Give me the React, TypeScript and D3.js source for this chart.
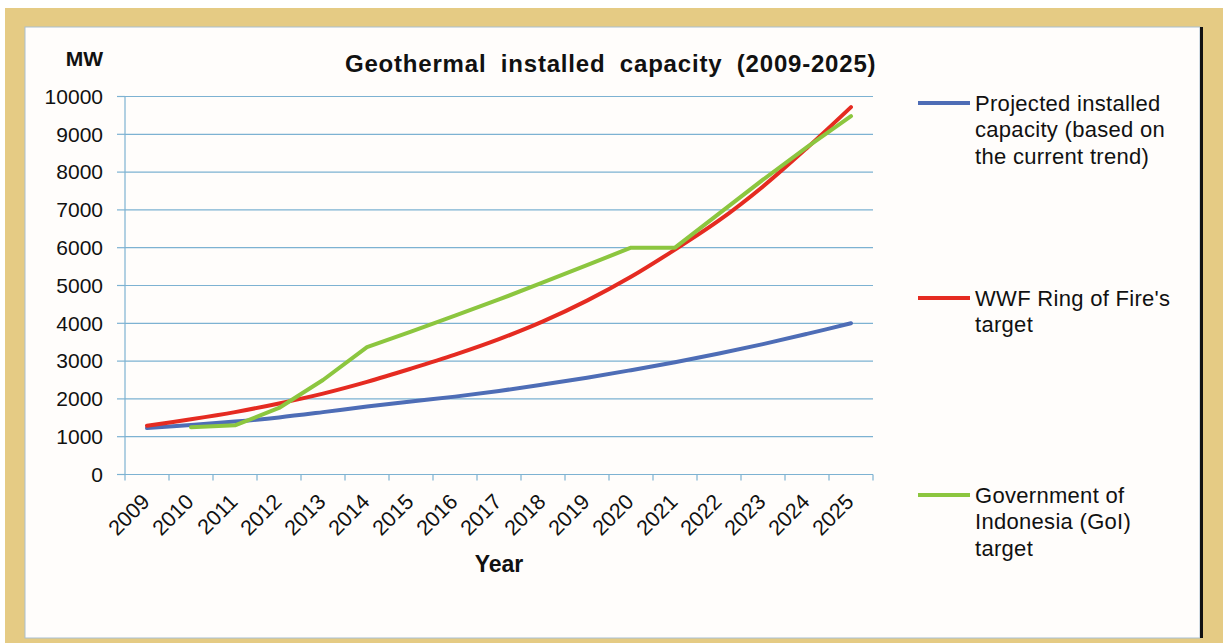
import React from "react";
import * as d3 from "d3";

const years = ["2009","2010","2011","2012","2013","2014","2015","2016","2017","2018","2019","2020","2021","2022","2023","2024","2025"];
const projected = [1230, 1310, 1400, 1510, 1650, 1800, 1930, 2060, 2210, 2380, 2560, 2760, 2970, 3200, 3450, 3720, 4000];
const wwf = [1290, 1460, 1650, 1880, 2140, 2450, 2800, 3170, 3580, 4050, 4600, 5230, 5950, 6720, 7620, 8640, 9720];
const goi: (number | null)[] = [null, 1250, 1300, 1760, 2500, 3370, 3780, 4200, 4630, 5080, 5540, 6000, 6000, 6900, 7800, 8660, 9480];
const yTicks = [0, 1000, 2000, 3000, 4000, 5000, 6000, 7000, 8000, 9000, 10000];
const legendItems = [
  { lines: ["Projected installed", "capacity (based on", "the current trend)"], color: "#4e6db6" },
  { lines: ["WWF Ring of Fire's", "target"], color: "#e52b21" },
  { lines: ["Government of", "Indonesia (GoI)", "target"], color: "#8cc63f" },
];

const W = 1223, H = 643;
const FONT = "'Liberation Sans', Arial, sans-serif";

export default function App() {
  const x = d3.scaleBand<string>().domain(years).range([125, 873]).paddingInner(0).paddingOuter(0);
  const y = d3.scaleLinear().domain([0, 10000]).range([474.5, 96.5]);
  const cx = (yr: string) => (x(yr) as number) + x.bandwidth() / 2;

  const smooth = d3.line<number>().x((_, i) => cx(years[i])).y((d) => y(d)).curve(d3.curveCatmullRom.alpha(0.5));
  const straight = d3
    .line<number | null>()
    .defined((d) => d !== null)
    .x((_, i) => cx(years[i]))
    .y((d) => y(d as number))
    .curve(d3.curveLinear);

  const gridColor = "#7db2d2";
  const legendY = [103, 298, 495];

  return (
    <div>
      <svg width={W} height={H} style={{ position: "absolute", left: 0, top: 0 }} fontFamily={FONT}>
        <rect x={0} y={0} width={W} height={H} fill="#ffffff" />
        <rect x={5} y={8} width={W - 5} height={H - 8} fill="#e5cb84" />
        <rect x={25} y={27} width={1175} height={611} fill="#fffdfb" stroke="#a9bfd0" strokeWidth={1} />
        <rect x={1200} y={27} width={3} height={611} fill="#111111" />

        {/* gridlines */}
        {yTicks.slice(1).map((t) => (
          <line key={"g" + t} x1={125} x2={873} y1={y(t)} y2={y(t)} stroke={gridColor} strokeWidth={1.2} />
        ))}
        {/* y axis */}
        <line x1={125} x2={125} y1={y(10000)} y2={y(0)} stroke={gridColor} strokeWidth={1.2} />
        {yTicks.map((t) => (
          <g key={"yt" + t}>
            <line x1={117} x2={125} y1={y(t)} y2={y(t)} stroke={gridColor} strokeWidth={1.2} />
            <text x={103} y={y(t)} dy="0.35em" textAnchor="end" fontSize={21} fill="#111">
              {t}
            </text>
          </g>
        ))}
        {/* x axis */}
        <line x1={125} x2={873} y1={y(0)} y2={y(0)} stroke={gridColor} strokeWidth={1.2} />
        {years.map((yr) => (
          <line key={"xt" + yr} x1={x(yr) as number} x2={x(yr) as number} y1={y(0)} y2={y(0) + 6} stroke={gridColor} strokeWidth={1.2} />
        ))}
        <line x1={873} x2={873} y1={y(0)} y2={y(0) + 6} stroke={gridColor} strokeWidth={1.2} />
        {years.map((yr) => (
          <text
            key={"xl" + yr}
            transform={`translate(${cx(yr) + 4},${503}) rotate(-45)`}
            textAnchor="end"
            fontSize={21.5}
            fill="#111"
          >
            {yr}
          </text>
        ))}

        {/* series */}
        <path d={smooth(projected) as string} fill="none" stroke={legendItems[0].color} strokeWidth={4} strokeLinecap="round" />
        <path d={smooth(wwf) as string} fill="none" stroke={legendItems[1].color} strokeWidth={4} strokeLinecap="round" />
        <path d={straight(goi) as string} fill="none" stroke={legendItems[2].color} strokeWidth={4} strokeLinecap="round" strokeLinejoin="round" />

        {/* titles */}
        <text x={345} y={72} fontSize={24} fontWeight="bold" fill="#111" letterSpacing={0.8} wordSpacing={7}>
          Geothermal installed capacity (2009-2025)
        </text>
        <text x={103} y={66} fontSize={21} fontWeight="bold" textAnchor="end" fill="#111">
          MW
        </text>
        <text x={499} y={572} fontSize={23} fontWeight="bold" textAnchor="middle" fill="#111">
          Year
        </text>

        {/* legend */}
        {legendItems.map((it, i) => (
          <g key={"lg" + i}>
            <line x1={918} x2={970} y1={legendY[i]} y2={legendY[i]} stroke={it.color} strokeWidth={4} />
            {it.lines.map((ln, j) => (
              <text key={j} x={975} y={legendY[i] + 7.5 + j * 26.5} fontSize={22} letterSpacing={0.3} fill="#111">
                {ln}
              </text>
            ))}
          </g>
        ))}
      </svg>
    </div>
  );
}
